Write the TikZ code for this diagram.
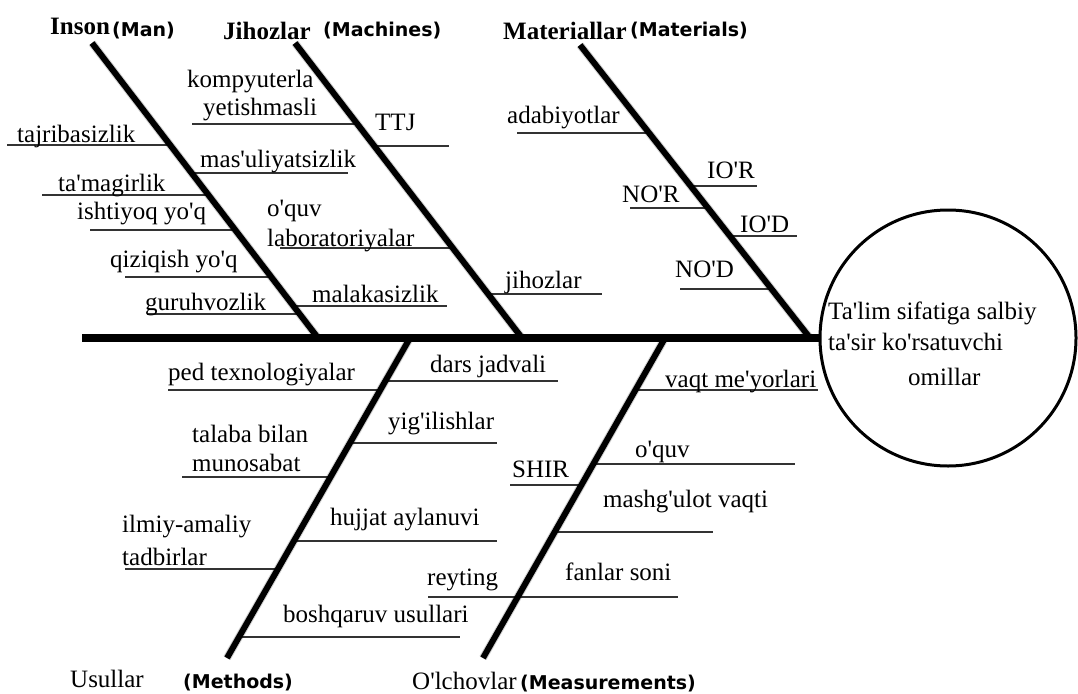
\documentclass[tikz,border=0pt]{standalone}
\usepackage{fontspec}
\setmainfont{Liberation Serif}[Ligatures=TeXOff]
\newfontfamily\sansb{DejaVu Sans}[Ligatures=TeXOff]
\begin{document}
\begin{tikzpicture}[x=1pt,y=-1pt,
  lbl/.style={anchor=base west, inner sep=0pt, font=\fontsize{25}{29}\selectfont},
  cat/.style={anchor=base west, inner sep=0pt, font=\fontsize{25}{29}\selectfont\bfseries},
  catsans/.style={anchor=base west, inner sep=0pt, font=\sansb\bfseries\fontsize{19}{22}\selectfont},
  branch/.style={line width=1.5pt, draw=black!80},
  bone/.style={line width=6pt},
  boneshadow/.style={line width=8pt, draw=black, opacity=0.18, shift={(1.5pt,-2.5pt)}},
  spineline/.style={line width=7.5pt},
  headcircle/.style={circle, draw, line width=3pt, minimum size=256pt, inner sep=0pt}]
\useasboundingbox (0,0) rectangle (1078,693);

% head circle
\node[headcircle] (head) at (948,338) {};
\node[lbl] (c1) at (828,319) {Ta'lim sifatiga salbiy};
\node[lbl] (c2) at (828,350) {ta'sir ko'rsatuvchi};
\node[lbl] (c3) at (908,385) {omillar};

% bone end points
\coordinate (s0) at (82,338);
\coordinate (sE) at (820,338);
\coordinate (iT) at (92,43);   \coordinate (iB) at (318,338);
\coordinate (jT) at (295,43);  \coordinate (jB) at (522,338);
\coordinate (mT) at (580,45);  \coordinate (mB) at (810,338);
\coordinate (uT) at (410,338); \coordinate (uB) at (227,658);
\coordinate (oT) at (665,338); \coordinate (oB) at (483,658);

% branch end points
\coordinate (a1) at (7,145);    \coordinate (b1) at (170,145);
\coordinate (a2) at (42,195);   \coordinate (b2) at (208,195);
\coordinate (a3) at (90,230);   \coordinate (b3) at (235,230);
\coordinate (a4) at (125,277);  \coordinate (b4) at (271,277);
\coordinate (a5) at (147,314);  \coordinate (b5) at (300,314);
\coordinate (a6) at (192,124);  \coordinate (b6) at (357,124);
\coordinate (a7) at (192,173);  \coordinate (b7) at (348,173);
\coordinate (a8) at (280,248);  \coordinate (b8) at (452,248);
\coordinate (a9) at (293,306);  \coordinate (b9) at (447,306);
\coordinate (a10) at (374,146); \coordinate (b10) at (449,146);
\coordinate (a11) at (488,294); \coordinate (b11) at (602,294);
\coordinate (a12) at (517,133); \coordinate (b12) at (649,133);
\coordinate (a13) at (691,186); \coordinate (b13) at (757,186);
\coordinate (a14) at (630,208); \coordinate (b14) at (708,208);
\coordinate (a15) at (730,236); \coordinate (b15) at (797,236);
\coordinate (a16) at (680,289); \coordinate (b16) at (771,289);
\coordinate (a17) at (168,390); \coordinate (b17) at (380,390);
\coordinate (a18) at (385,381); \coordinate (b18) at (558,381);
\coordinate (a19) at (350,443); \coordinate (b19) at (497,443);
\coordinate (a20) at (182,477); \coordinate (b20) at (330,477);
\coordinate (a21) at (294,541); \coordinate (b21) at (497,541);
\coordinate (a22) at (125,569); \coordinate (b22) at (278,569);
\coordinate (a23) at (239,637); \coordinate (b23) at (460,637);
\coordinate (a24) at (635,390); \coordinate (b24) at (818,390);
\coordinate (a25) at (593,464); \coordinate (b25) at (795,464);
\coordinate (a26) at (510,485); \coordinate (b26) at (581,485);
\coordinate (a27) at (555,532); \coordinate (b27) at (713,532);
\coordinate (a28) at (428,597); \coordinate (b28) at (678,597);

\foreach \i in {1,...,28} {\draw[branch] (a\i) -- (b\i);}

% soft shadows
\draw[boneshadow] (s0) -- (sE);
\draw[boneshadow] (iT) -- (iB);
\draw[boneshadow] (jT) -- (jB);
\draw[boneshadow] (mT) -- (mB);
\draw[boneshadow] (uT) -- (uB);
\draw[boneshadow] (oT) -- (oB);

% spine and bones
\draw[spineline] (s0) -- (head.west);
\draw[bone] (iT) -- (iB);
\draw[bone] (jT) -- (jB);
\draw[bone] (mT) -- (mB);
\draw[bone] (uT) -- (uB);
\draw[bone] (oT) -- (oB);

% category labels
\node[cat] (cinson) at (50,35) {Inson};
\node[catsans] (cman) at (112,37) {(Man)};
\node[cat] (cjih) at (223,40) {Jihozlar};
\node[catsans] (cmach) at (323,37) {(Machines)};
\node[cat] (cmat) at (503,40) {Materiallar};
\node[catsans] (cmats) at (630,37) {(Materials)};
\node[lbl] (cusul) at (70,687) {Usullar};
\node[catsans] (cmeth) at (183,688) {(Methods)};
\node[lbl] (colch) at (412,689) {O'lchovlar};
\node[catsans] (cmeas) at (520,689) {(Measurements)};

% branch labels
\node[lbl] (t1) at (17,142) {tajribasizlik};
\node[lbl] (t2) at (58,191) {ta'magirlik};
\node[lbl] (t3) at (77,219) {ishtiyoq yo'q};
\node[lbl] (t4) at (110,267) {qiziqish yo'q};
\node[lbl] (t5) at (145,310) {guruhvozlik};
\node[lbl] (t6a) at (187,87) {kompyuterla};
\node[lbl] (t6b) at (203,115) {yetishmasli};
\node[lbl] (t7) at (200,167) {mas'uliyatsizlik};
\node[lbl] (t8a) at (267,216) {o'quv};
\node[lbl] (t8b) at (267,246) {laboratoriyalar};
\node[lbl] (t9) at (312,302) {malakasizlik};
\node[lbl] (t10) at (375,130) {TTJ};
\node[lbl] (t11) at (505,288) {jihozlar};
\node[lbl] (t12) at (507,123) {adabiyotlar};
\node[lbl] (t13) at (707,178) {IO'R};
\node[lbl] (t14) at (622,202) {NO'R};
\node[lbl] (t15) at (740,232) {IO'D};
\node[lbl] (t16) at (675,277) {NO'D};
\node[lbl] (t17) at (168,380) {ped texnologiyalar};
\node[lbl] (t18) at (430,372) {dars jadvali};
\node[lbl] (t19) at (388,429) {yig'ilishlar};
\node[lbl] (t20a) at (192,442) {talaba bilan};
\node[lbl] (t20b) at (192,471) {munosabat};
\node[lbl] (t21) at (330,525) {hujjat aylanuvi};
\node[lbl] (t22a) at (122,532) {ilmiy-amaliy};
\node[lbl] (t22b) at (122,565) {tadbirlar};
\node[lbl] (t23) at (283,622) {boshqaruv usullari};
\node[lbl] (t24) at (665,387) {vaqt me'yorlari};
\node[lbl] (t25) at (635,457) {o'quv};
\node[lbl] (t26) at (512,477) {SHIR};
\node[lbl] (t27) at (603,507) {mashg'ulot vaqti};
\node[lbl] (t28) at (427,585) {reyting};
\node[lbl] (t29) at (565,580) {fanlar soni};
\end{tikzpicture}
\end{document}
